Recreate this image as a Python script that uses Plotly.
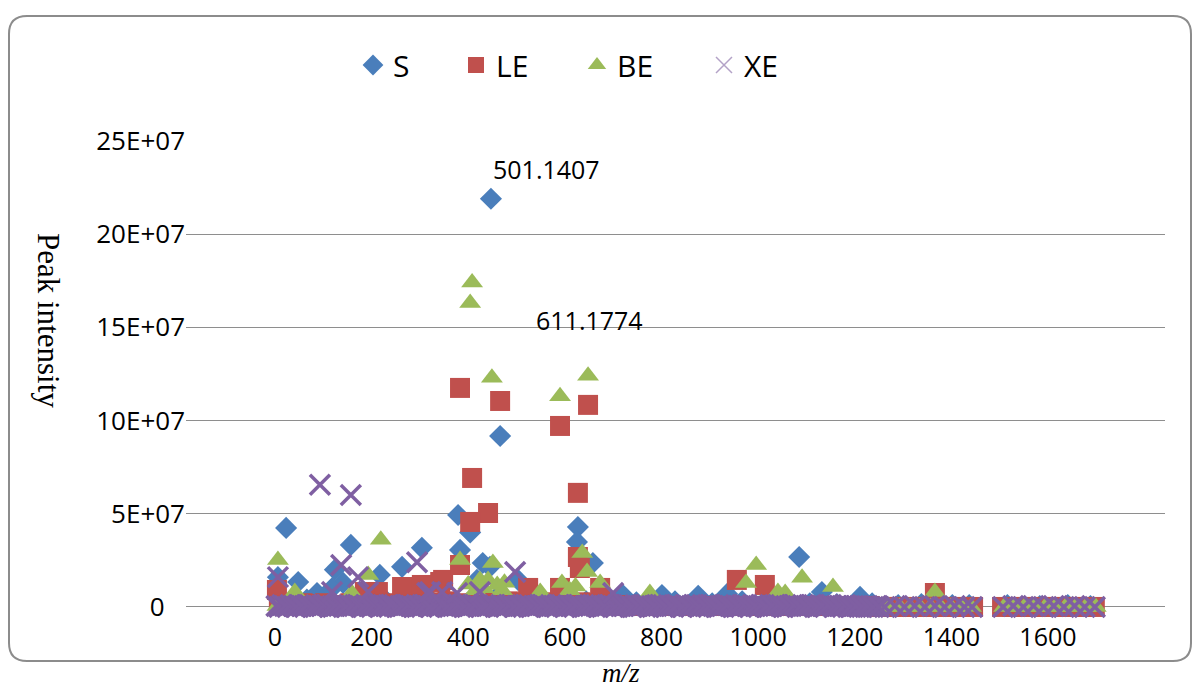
import plotly.graph_objects as go

# ---------------- data (m/z, peak intensity in units of 1E+07) ----------------
s_peaks = [(447, 21.9), (466, 9.17), (379, 4.93), (404, 4.0), (383, 3.06), (627, 4.29),
           (625, 3.49), (658, 2.36), (430, 2.36), (23, 4.24), (6, 1.6), (48, 1.34),
           (157, 3.33), (124, 2.0), (141, 1.29), (217, 1.72), (263, 2.15), (304, 3.17),
           (1085, 2.68), (801, 0.64), (876, 0.6), (936, 0.7), (1132, 0.8), (1211, 0.54),
           (720, 0.64), (87, 0.75), (118, 1.0), (503, 1.45), (445, 2.15), (418, 1.45)]
s_base = [(12, 0.3), (35, 0.2), (66, 0.4), (102, 0.3), (148, 0.2), (183, 0.35), (231, 0.3),
          (276, 0.25), (322, 0.4), (355, 0.3), (397, 0.2), (456, 0.45), (512, 0.3), (548, 0.35),
          (601, 0.2), (644, 0.3), (689, 0.4), (748, 0.25), (772, 0.35), (828, 0.3), (905, 0.2),
          (967, 0.3), (1012, 0.25), (1048, 0.3), (1107, 0.2), (1163, 0.15), (1236, 0.2),
          (1290, 0.1), (1338, 0.15), (1402, 0.1), (1437, 0.1), (1516, 0.1), (1583, 0.05),
          (1641, 0.1), (1688, 0.05)]

le_peaks = [(383, 11.75), (466, 11.05), (590, 9.71), (648, 10.84), (408, 6.92), (441, 5.04),
            (404, 4.56), (627, 6.12), (627, 2.68), (631, 2.09), (348, 1.45), (383, 2.25),
            (524, 1.02), (590, 1.02), (673, 1.02), (4, 0.91), (263, 1.07), (304, 1.18),
            (342, 1.34), (213, 0.8), (186, 0.8), (956, 1.45), (1014, 1.18), (1366, 0.75)]
le_base = [(8, 0.2), (30, 0.1), (57, 0.2), (81, 0.15), (104, 0.2), (131, 0.1), (156, 0.2),
           (178, 0.15), (205, 0.1), (229, 0.2), (254, 0.15), (281, 0.25), (306, 0.2), (330, 0.25),
           (357, 0.3), (380, 0.2), (407, 0.15), (431, 0.25), (455, 0.2), (482, 0.3), (506, 0.25),
           (531, 0.2), (556, 0.25), (580, 0.15), (606, 0.2), (632, 0.25), (656, 0.2), (681, 0.15),
           (705, 0.1), (731, 0.05), (757, 0.05), (780, 0.05), (806, 0.05), (830, 0.05), (856, 0.05),
           (881, 0.05), (905, 0.05), (931, 0.05), (957, 0.05), (980, 0.05), (1006, 0.05),
           (1031, 0.05), (1055, 0.05), (1080, 0.05), (1106, 0.05), (1131, 0.05), (1156, 0.05),
           (1181, 0.05), (1205, 0.05), (1231, 0.05), (1256, 0.0), (1275, 0.0), (1296, 0.0),
           (1318, 0.0), (1340, 0.0), (1361, 0.0), (1383, 0.0), (1405, 0.0), (1426, 0.0),
           (1445, 0.0), (1505, 0.0), (1526, 0.0), (1548, 0.0), (1569, 0.0), (1590, 0.0),
           (1612, 0.0), (1633, 0.0), (1655, 0.0), (1676, 0.0), (1697, 0.0)]

be_peaks = [(408, 17.4), (404, 16.3), (449, 12.3), (590, 11.3), (648, 12.4), (6, 2.52),
            (219, 3.6), (193, 1.72), (383, 2.52), (451, 2.36), (636, 2.9), (646, 1.88),
            (673, 1.29), (594, 1.29), (424, 1.45), (441, 1.45), (460, 1.18), (776, 0.75),
            (549, 0.8), (996, 2.25), (975, 1.29), (1091, 1.56), (1155, 1.07), (1041, 0.8),
            (1056, 0.75), (1366, 0.8), (159, 0.75), (41, 0.8), (400, 1.2), (415, 0.9),
            (432, 1.0), (470, 0.9), (475, 1.3), (610, 0.9), (622, 1.1)]
be_base = [(5, 0.05), (40, 0.1), (76, 0.0), (112, 0.1), (150, 0.05), (186, 0.1), (224, 0.0),
           (260, 0.1), (298, 0.05), (333, 0.1), (370, 0.0), (410, 0.1), (446, 0.05), (484, 0.1),
           (520, 0.0), (557, 0.1), (595, 0.05), (632, 0.1), (668, 0.0), (706, 0.1), (742, 0.05),
           (779, 0.1), (815, 0.0), (853, 0.1), (889, 0.05), (926, 0.1), (962, 0.0), (1000, 0.1),
           (1036, 0.05), (1073, 0.1), (1110, 0.0), (1146, 0.05), (1183, 0.0), (1220, 0.05),
           (1252, 0.0), (1272, 0.0), (1293, 0.0), (1314, 0.0), (1335, 0.0), (1357, 0.0),
           (1378, 0.0), (1399, 0.0), (1420, 0.0), (1441, 0.0), (1509, 0.0), (1530, 0.0),
           (1551, 0.0), (1572, 0.0), (1594, 0.0), (1615, 0.0), (1636, 0.0), (1657, 0.0),
           (1678, 0.0), (1699, 0.0)]

xe_peaks = [(93, 6.55), (157, 6.0), (6, 1.6), (137, 2.25), (172, 1.6), (294, 2.4), (497, 1.88),
            (193, 0.8), (118, 0.8), (315, 0.75), (346, 0.8), (700, 0.75), (424, 0.8),
            (377, 0.75), (321, 0.8)]
xe_base = [(3, 0.05), (15, 0.1), (26, 0.0), (38, 0.05), (49, 0.1), (61, 0.05), (72, 0.1),
           (84, 0.0), (96, 0.05), (107, 0.1), (119, 0.05), (130, 0.1), (142, 0.0), (153, 0.1),
           (165, 0.05), (177, 0.05), (188, 0.1), (200, 0.0), (211, 0.1), (223, 0.05), (235, 0.1),
           (246, 0.05), (258, 0.0), (269, 0.1), (281, 0.05), (293, 0.1), (304, 0.0), (316, 0.05),
           (327, 0.1), (339, 0.05), (351, 0.1), (362, 0.0), (374, 0.1), (385, 0.05), (397, 0.05),
           (409, 0.1), (420, 0.0), (432, 0.1), (443, 0.05), (455, 0.1), (467, 0.05), (478, 0.0),
           (490, 0.1), (501, 0.05), (513, 0.1), (525, 0.0), (536, 0.05), (548, 0.1), (559, 0.05),
           (571, 0.1), (583, 0.0), (594, 0.1), (606, 0.05), (617, 0.05), (629, 0.1), (641, 0.0),
           (652, 0.1), (664, 0.05), (675, 0.1), (687, 0.05), (699, 0.0), (710, 0.1), (722, 0.05),
           (733, 0.1), (745, 0.0), (757, 0.05), (768, 0.1), (780, 0.05), (791, 0.1), (803, 0.0),
           (815, 0.1), (826, 0.05), (838, 0.05), (849, 0.1), (861, 0.0), (873, 0.1), (884, 0.05),
           (896, 0.1), (907, 0.05), (919, 0.0), (931, 0.1), (942, 0.05), (954, 0.1), (965, 0.0),
           (977, 0.05), (989, 0.1), (1000, 0.05), (1012, 0.1), (1023, 0.0), (1035, 0.1),
           (1047, 0.05), (1058, 0.05), (1070, 0.1), (1081, 0.0), (1093, 0.1), (1105, 0.05),
           (1116, 0.1), (1128, 0.05), (1139, 0.0), (1151, 0.1), (1163, 0.05), (1174, 0.05),
           (1186, 0.0), (1197, 0.05), (1209, 0.0), (1221, 0.05), (1232, 0.0), (1244, 0.05),
           (1262, 0.0), (1283, 0.05), (1303, 0.0), (1324, 0.05), (1345, 0.0), (1366, 0.05),
           (1386, 0.0), (1407, 0.05), (1427, 0.0), (1443, 0.0), (1507, 0.0), (1528, 0.05),
           (1549, 0.0), (1570, 0.05), (1591, 0.0), (1612, 0.05), (1633, 0.0), (1655, 0.05),
           (1676, 0.0), (1697, 0.0)]
xe_base2 = [(9, 0.0), (20, 0.05), (32, 0.1), (43, 0.0), (55, 0.05), (66, 0.1), (78, 0.0),
            (90, 0.05), (101, 0.1), (113, 0.0), (124, 0.05), (136, 0.1), (147, 0.0), (159, 0.05),
            (171, 0.1), (182, 0.0), (194, 0.05), (205, 0.1), (217, 0.0), (229, 0.05), (240, 0.1),
            (252, 0.0), (263, 0.05), (275, 0.1), (287, 0.0), (298, 0.05), (310, 0.1), (321, 0.0),
            (333, 0.05), (345, 0.1), (356, 0.0), (368, 0.05), (379, 0.1), (391, 0.0), (403, 0.05),
            (414, 0.1), (426, 0.0), (437, 0.05), (449, 0.1), (461, 0.0), (472, 0.05), (484, 0.1),
            (495, 0.0), (507, 0.05), (519, 0.1), (530, 0.0), (542, 0.05), (553, 0.1), (565, 0.0),
            (577, 0.05), (588, 0.1), (600, 0.0), (611, 0.05), (623, 0.1), (635, 0.0), (646, 0.05),
            (658, 0.1), (669, 0.0), (681, 0.05), (693, 0.1), (704, 0.0), (716, 0.05), (727, 0.1),
            (739, 0.0), (751, 0.05), (762, 0.1), (774, 0.0), (785, 0.05), (797, 0.1), (809, 0.0),
            (820, 0.05), (832, 0.1), (843, 0.0), (855, 0.05), (867, 0.1), (878, 0.0), (890, 0.05),
            (901, 0.1), (913, 0.0), (925, 0.05), (936, 0.1), (948, 0.0), (959, 0.05), (971, 0.1),
            (983, 0.0), (994, 0.05), (1006, 0.1), (1017, 0.0), (1029, 0.05), (1041, 0.1),
            (1052, 0.0), (1064, 0.05), (1075, 0.1), (1087, 0.0), (1099, 0.05), (1110, 0.1),
            (1122, 0.0), (1133, 0.05), (1145, 0.1), (1157, 0.0), (1168, 0.05), (1180, 0.1),
            (1191, 0.0), (1203, 0.05), (1215, 0.0), (1226, 0.05), (1238, 0.0), (1250, 0.0)]

x_ticks = [0, 200, 400, 600, 800, 1000, 1200, 1400, 1600]
y_ticks = [0, 5, 10, 15, 20, 25]
y_ticktext = ["0\u00a0\u00a0\u00a0", "5E+07", "10E+07", "15E+07", "20E+07", "25E+07"]
peak_labels = [("501.1407", 563, 23.5), ("611.1774", 652, 15.4)]

# ---------------- layout geometry ----------------
W, H = 1199, 688
ML, MR, MT, MB = 186, 34, 140, 68
PW, PH = W - ML - MR, H - MT - MB


def px_x(px):
    return (px - ML) / PW


def px_y(py):
    return (H - MB - py) / PH


COL_S, COL_LE, COL_BE, COL_XE = "#4A7EBB", "#C0504D", "#9BBB59", "#7F5FA2"
FONT = "Open Sans"


def split(pairs):
    return [p[0] for p in pairs], [p[1] for p in pairs]


fig = go.Figure()

sx, sy = split(s_base + s_peaks)
fig.add_trace(go.Scatter(x=sx, y=sy, mode="markers", name="S", legend="legend",
                         marker=dict(symbol="diamond", size=17, color=COL_S, line=dict(width=0))))
lx, ly = split(le_base + le_peaks)
fig.add_trace(go.Scatter(x=lx, y=ly, mode="markers", name="LE", legend="legend2",
                         marker=dict(symbol="square", size=20, color=COL_LE, line=dict(width=0))))
bx, by = split(be_base + be_peaks)
fig.add_trace(go.Scatter(x=bx, y=by, mode="markers", name="BE", legend="legend3",
                         marker=dict(symbol="triangle-up", size=19, color=COL_BE, line=dict(width=0))))
xx, xy = split(xe_base + xe_base2 + xe_peaks)
fig.add_trace(go.Scatter(x=xx, y=xy, mode="markers", name="XE", showlegend=False, legendgroup="xe",
                         marker=dict(symbol="x-thin", size=20, color=COL_XE,
                                     line=dict(width=3.5, color=COL_XE))))
# legend entry for XE (thin, light as in the original legend)
fig.add_trace(go.Scatter(x=[None], y=[None], mode="markers", name="XE", legend="legend4",
                         legendgroup="xe",
                         marker=dict(symbol="x-thin", size=16, color="#B3A2C7",
                                     line=dict(width=1.5, color="#B3A2C7"))))

legend_style = dict(orientation="h", yanchor="middle", xanchor="left", y=px_y(65),
                    font=dict(family=FONT, size=30, color="#000"), bgcolor="rgba(0,0,0,0)",
                    borderwidth=0)
sym_centers = [373, 476, 597, 724]

annotations = [dict(text=t, x=x, y=y, xref="x", yref="y", showarrow=False,
                    xanchor="center", yanchor="middle",
                    font=dict(family=FONT, size=25, color="#000"))
               for t, x, y in peak_labels]
annotations.append(dict(text="Peak intensity", textangle=90, x=px_x(49), y=px_y(320),
                        xref="paper", yref="paper", showarrow=False,
                        xanchor="center", yanchor="middle",
                        font=dict(family="Liberation Serif", size=31, color="#000")))
annotations.append(dict(text="<i>m/z</i>", x=px_x(621), y=px_y(673), xref="paper", yref="paper",
                        showarrow=False, xanchor="center", yanchor="middle",
                        font=dict(family="Liberation Serif", size=27, color="#000")))

# rounded chart-area border
L, R, T, B, rad = 9, 1191, 16, 661, 18
path = (f"M{px_x(L + rad)},{px_y(T)} H{px_x(R - rad)} Q{px_x(R)},{px_y(T)} {px_x(R)},{px_y(T + rad)} "
        f"V{px_y(B - rad)} Q{px_x(R)},{px_y(B)} {px_x(R - rad)},{px_y(B)} "
        f"H{px_x(L + rad)} Q{px_x(L)},{px_y(B)} {px_x(L)},{px_y(B - rad)} "
        f"V{px_y(T + rad)} Q{px_x(L)},{px_y(T)} {px_x(L + rad)},{px_y(T)} Z")

fig.update_layout(
    width=W, height=H, autosize=False,
    margin=dict(l=ML, r=MR, t=MT, b=MB, pad=0),
    paper_bgcolor="white", plot_bgcolor="white",
    font=dict(family=FONT, size=26, color="#000"),
    legend=dict(legend_style, x=px_x(sym_centers[0] - 20)),
    legend2=dict(legend_style, x=px_x(sym_centers[1] - 20)),
    legend3=dict(legend_style, x=px_x(sym_centers[2] - 20)),
    legend4=dict(legend_style, x=px_x(sym_centers[3] - 20)),
    annotations=annotations,
    shapes=[dict(type="path", path=path, xref="paper", yref="paper",
                 line=dict(color="#8C8C8C", width=2), layer="below")],
    xaxis=dict(range=[(ML - 275) / 0.4831, (W - MR - 275) / 0.4831], tickvals=x_ticks,
               showgrid=False, zeroline=False, showline=False, ticks="",
               tickfont=dict(family=FONT, size=25, color="#000")),
    yaxis=dict(range=[-0.7, 25.05], tickvals=y_ticks, ticktext=y_ticktext,
               showgrid=True, gridcolor="#8E8E8E", gridwidth=1.3, zeroline=False,
               showline=False, ticks="", tickfont=dict(family=FONT, size=26, color="#000")),
    hovermode=False,
)

fig.write_html("out.html", config={"displayModeBar": False},
               post_script="document.body.style.margin='0';")
